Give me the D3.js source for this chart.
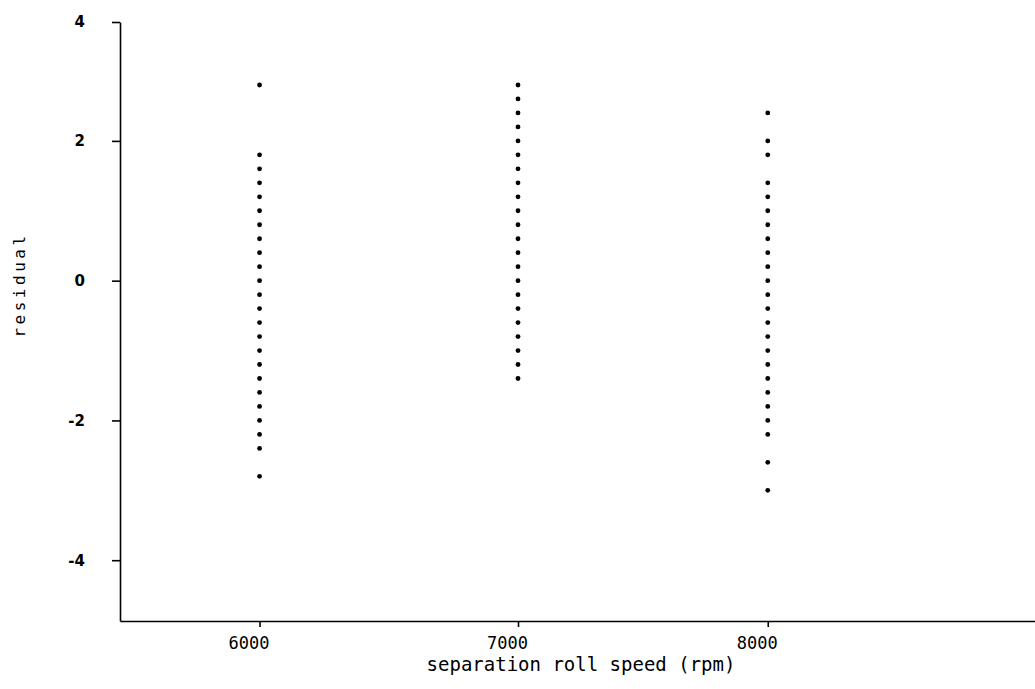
<!DOCTYPE html>
<html>
<head>
<meta charset="utf-8">
<script src="https://cdn.jsdelivr.net/npm/d3@7"></script>
<style>
  html, body { margin: 0; padding: 0; background: #fff; }
  svg { display: block; }
</style>
</head>
<body>
<svg id="chart" width="1035" height="689"></svg>
<script>
// Residuals by separation roll speed
const speeds = [6000, 7000, 8000];

const residuals6000 = [2.8, 1.8, 1.6, 1.4, 1.2, 1.0, 0.8, 0.6, 0.4, 0.2, 0.0,
  -0.2, -0.4, -0.6, -0.8, -1.0, -1.2, -1.4, -1.6, -1.8, -2.0, -2.2, -2.4, -2.8];

const residuals7000 = [2.8, 2.6, 2.4, 2.2, 2.0, 1.8, 1.6, 1.4, 1.2, 1.0, 0.8,
  0.6, 0.4, 0.2, 0.0, -0.2, -0.4, -0.6, -0.8, -1.0, -1.2, -1.4];

const residuals8000 = [2.4, 2.0, 1.8, 1.4, 1.2, 1.0, 0.8, 0.6, 0.4, 0.2, 0.0,
  -0.2, -0.4, -0.6, -0.8, -1.0, -1.2, -1.4, -1.6, -1.8, -2.0, -2.2, -2.6, -3.0];

const yTicks = [-4, -2, 0, 2, 4];
const xTicks = [6000, 7000, 8000];

const points = [
  ...residuals6000.map(r => ({ speed: speeds[0], r })),
  ...residuals7000.map(r => ({ speed: speeds[1], r })),
  ...residuals8000.map(r => ({ speed: speeds[2], r }))
];

const svg = d3.select("#chart");

const x = d3.scaleLinear()
  .domain([5460, 7000, 9070])
  .range([120, 518, 1035]);

const y = d3.scaleLinear()
  .domain([-4.87, 3, 4])
  .range([621, 71, 22]);

// y axis
const yAxis = svg.append("g")
  .attr("transform", "translate(120,0)")
  .call(d3.axisLeft(y)
    .tickValues(yTicks)
    .tickSize(8)
    .tickSizeOuter(0)
    .tickPadding(27)
    .tickFormat(d => String(d)));
yAxis.select(".domain").attr("stroke", "#000").attr("stroke-width", 1.6);
yAxis.selectAll(".tick line").attr("stroke", "#000").attr("stroke-width", 1.6);
yAxis.selectAll(".tick text")
  .attr("fill", "#000")
  .style("font-family", "'DejaVu Sans', sans-serif")
  .style("font-weight", "bold")
  .style("font-size", "15px");

// x axis
const xAxis = svg.append("g")
  .attr("transform", "translate(0,621)")
  .call(d3.axisBottom(x)
    .tickValues(xTicks)
    .tickSize(6)
    .tickSizeOuter(0)
    .tickPadding(10)
    .tickFormat(d => String(d)));
xAxis.select(".domain").attr("stroke", "#000").attr("stroke-width", 1.6);
xAxis.selectAll(".tick line").attr("stroke", "#000").attr("stroke-width", 1.6);
xAxis.selectAll(".tick text")
  .attr("fill", "#000")
  .attr("dx", -11)
  .style("font-family", "'DejaVu Sans Mono', monospace")
  .style("font-size", "17px");

// axis titles
svg.append("text")
  .attr("x", 581)
  .attr("y", 671)
  .attr("text-anchor", "middle")
  .style("font-family", "'DejaVu Sans Mono', monospace")
  .style("font-size", "19px")
  .text("separation roll speed (rpm)");

svg.append("text")
  .attr("transform", "translate(25,285) rotate(-90)")
  .attr("text-anchor", "middle")
  .style("font-family", "'DejaVu Sans Mono', monospace")
  .style("font-size", "16px")
  .style("letter-spacing", "3.5px")
  .text("residual");

// residual points
svg.append("g")
  .selectAll("circle")
  .data(points)
  .join("circle")
  .attr("cx", d => x(d.speed))
  .attr("cy", d => y(d.r))
  .attr("r", 2.4)
  .attr("fill", "#000");
</script>
</body>
</html>
